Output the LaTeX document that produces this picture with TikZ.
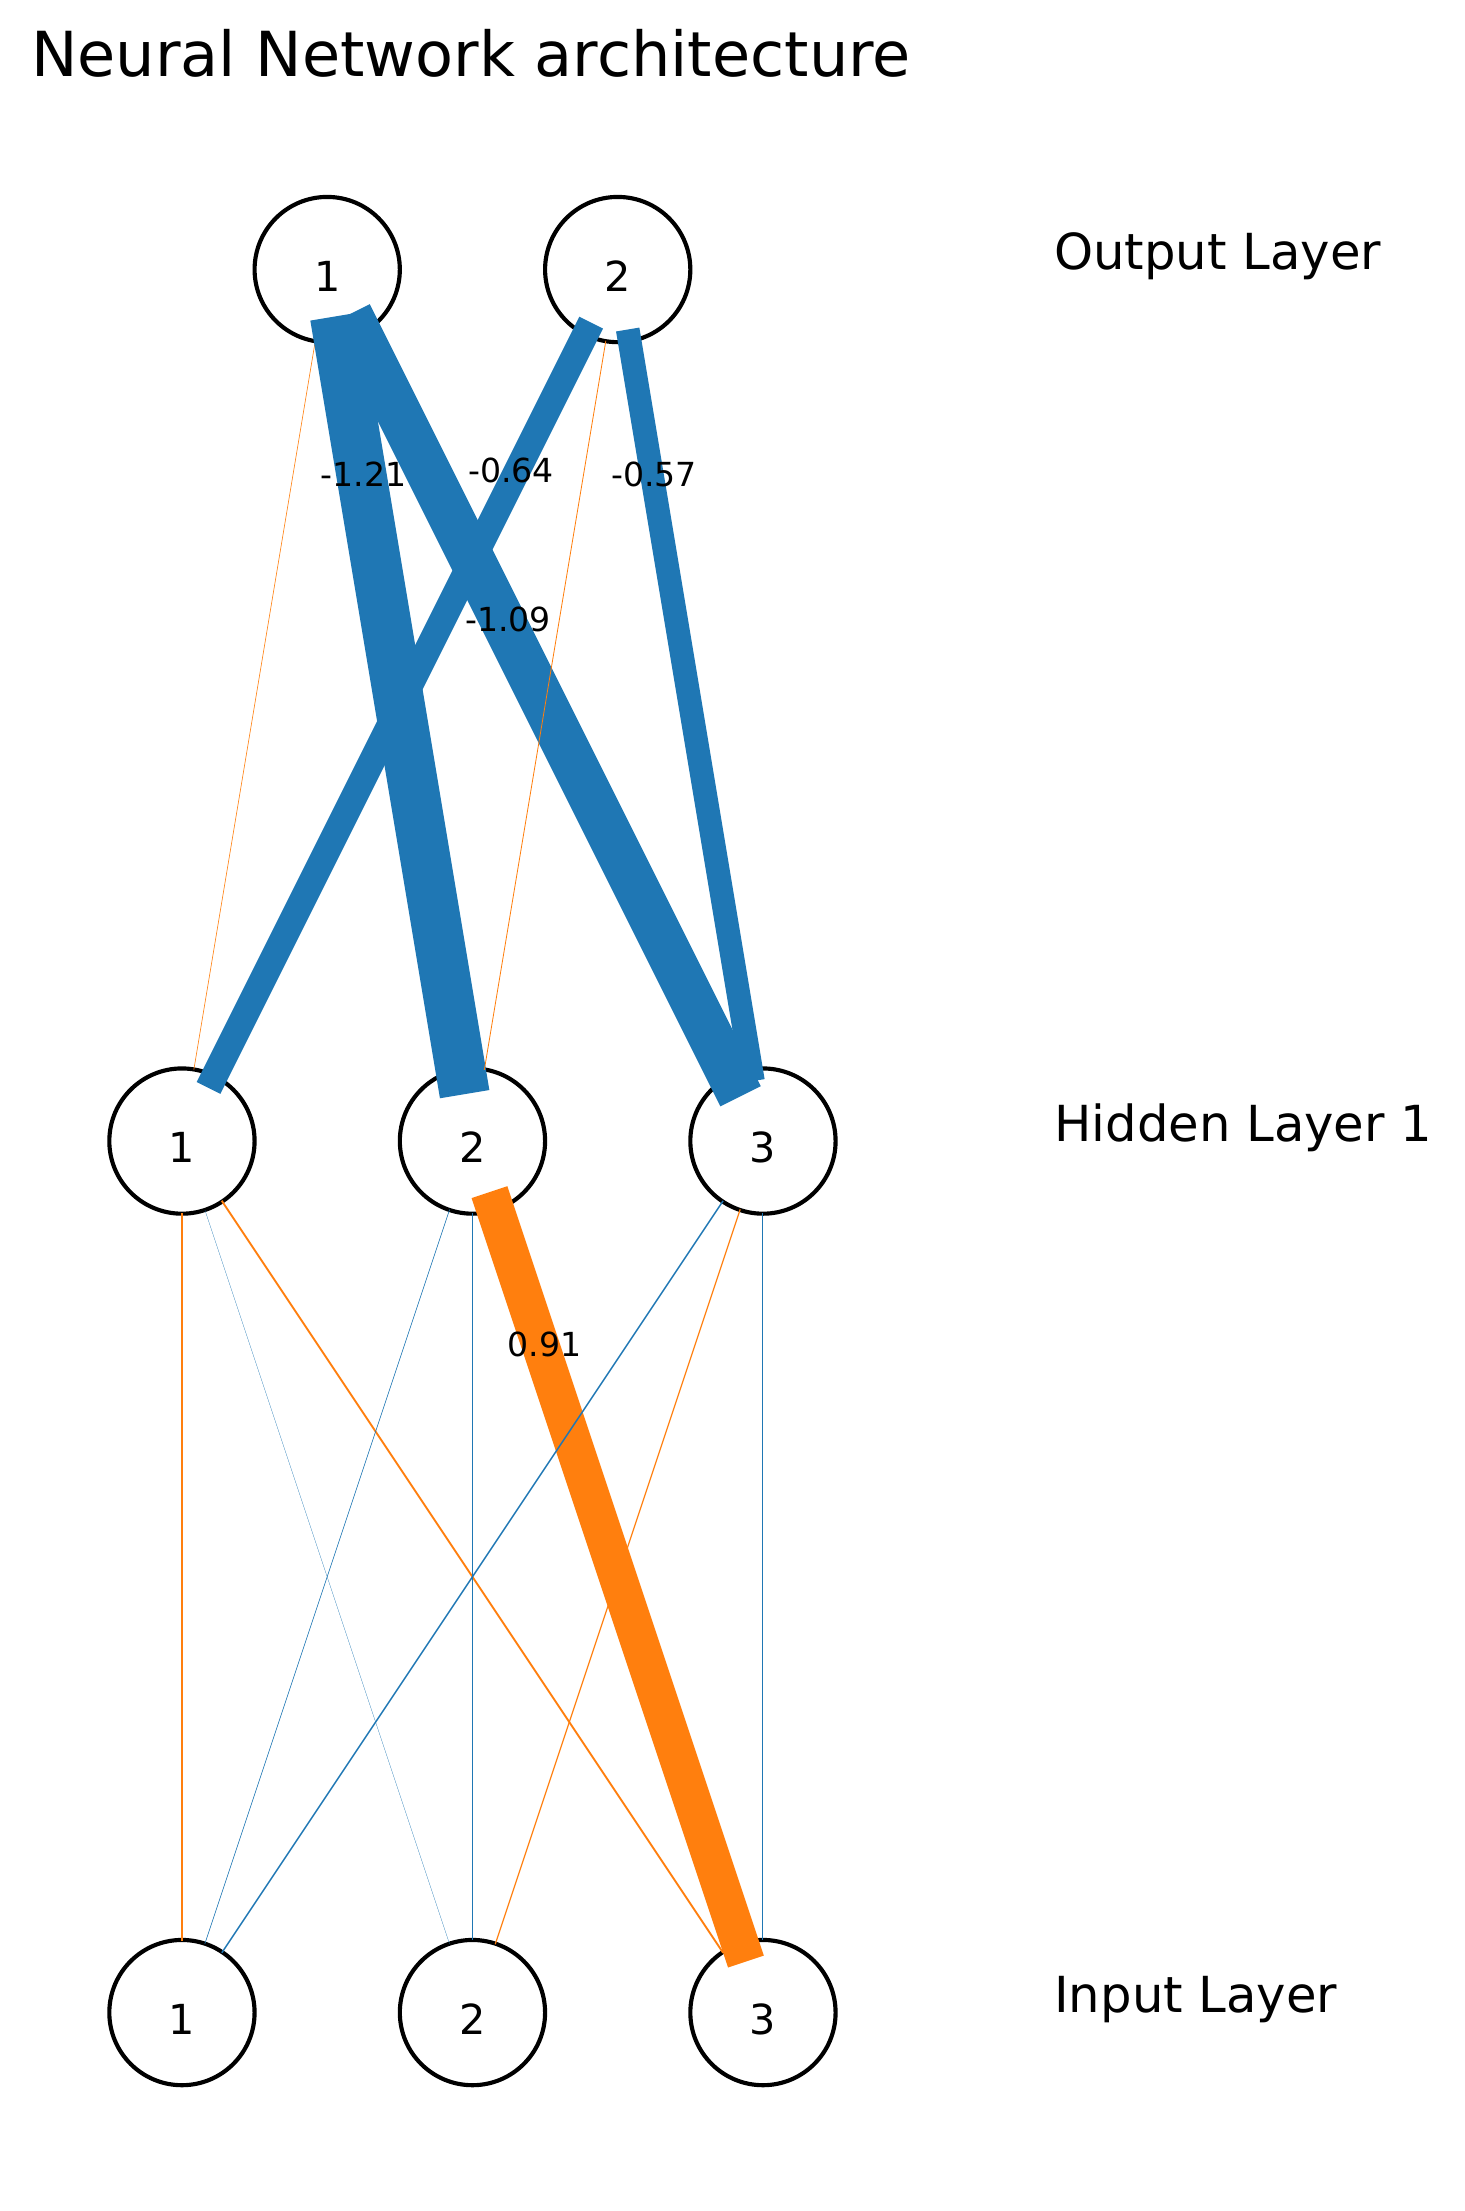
\documentclass[tikz,border=0pt]{standalone}
\usepackage{fontspec}
\setmainfont{DejaVu Sans}
\usepackage{xcolor}
\definecolor{tabblue}{HTML}{1F77B4}
\definecolor{taborange}{HTML}{FF7F0E}

\begin{document}
\begin{tikzpicture}[x=35.08pt, y=35.08pt,
  neuron/.style={circle, draw, line width=1pt, minimum size=35.08pt, inner sep=0pt, outer sep=0pt,
    font=\fontsize{10}{12}\selectfont, text height=10.5pt, text depth=0pt},
  layerlab/.style={anchor=base west, inner sep=0pt, font=\fontsize{12}{14}\selectfont},
  wlab/.style={anchor=base, inner sep=0pt, text=black, font=\fontsize{8}{10}\selectfont},
  wneg/.style={draw=tabblue, line width=#1, line cap=rect},
  wpos/.style={draw=taborange, line width=#1, line cap=rect}]
\useasboundingbox (-1.2527,-1.366) rectangle (8.827,13.856);

% title
\node[anchor=base, inner sep=0pt, font=\fontsize{15}{18}\selectfont] (title) at (1.99,13.328) {Neural Network architecture};

% input layer
\node[neuron] (i1) at (0,0) {1};
\node[neuron] (i2) at (2,0) {2};
\node[neuron] (i3) at (4,0) {3};
\node[layerlab] (inlab) at (6,0) {Input Layer};

% hidden layer
\node[neuron] (h1) at (0,6) {1};
\node[neuron] (h2) at (2,6) {2};
\node[neuron] (h3) at (4,6) {3};
\node[layerlab] (hidlab) at (6,6) {Hidden Layer 1};

% output layer
\node[neuron] (o1) at (1,12) {1};
\node[neuron] (o2) at (3,12) {2};
\node[layerlab] (outlab) at (6,12) {Output Layer};

% hidden -> input
\draw[wpos=0.3pt] (h1) -- (i1);
\draw[wneg=0.06pt] (h1) -- (i2);
\draw[wpos=0.45pt] (h1) -- (i3);
\draw[wneg=0.15pt] (h2) -- (i1);
\draw[wneg=0.15pt] (h2) -- (i2);
\draw[wpos=9.1pt] (h2) -- node[wlab, pos=0.2] {0.91} (i3);
\draw[wneg=0.35pt] (h3) -- (i1);
\draw[wpos=0.3pt] (h3) -- (i2);
\draw[wneg=0.25pt] (h3) -- (i3);

% output -> hidden
\draw[wpos=0.15pt] (o1) -- (h1);
\draw[wneg=12.1pt] (o1) -- node[wlab, pos=0.2] {-1.21} (h2);
\draw[wneg=6.4pt] (o2) -- node[wlab, pos=0.2] {-0.64} (h1);
\draw[wneg=10.9pt] (o1) -- node[wlab, pos=0.4] {-1.09} (h3);
\draw[wpos=0.2pt] (o2) -- (h2);
\draw[wneg=5.7pt] (o2) -- node[wlab, pos=0.2] {-0.57} (h3);
\end{tikzpicture}
\end{document}
